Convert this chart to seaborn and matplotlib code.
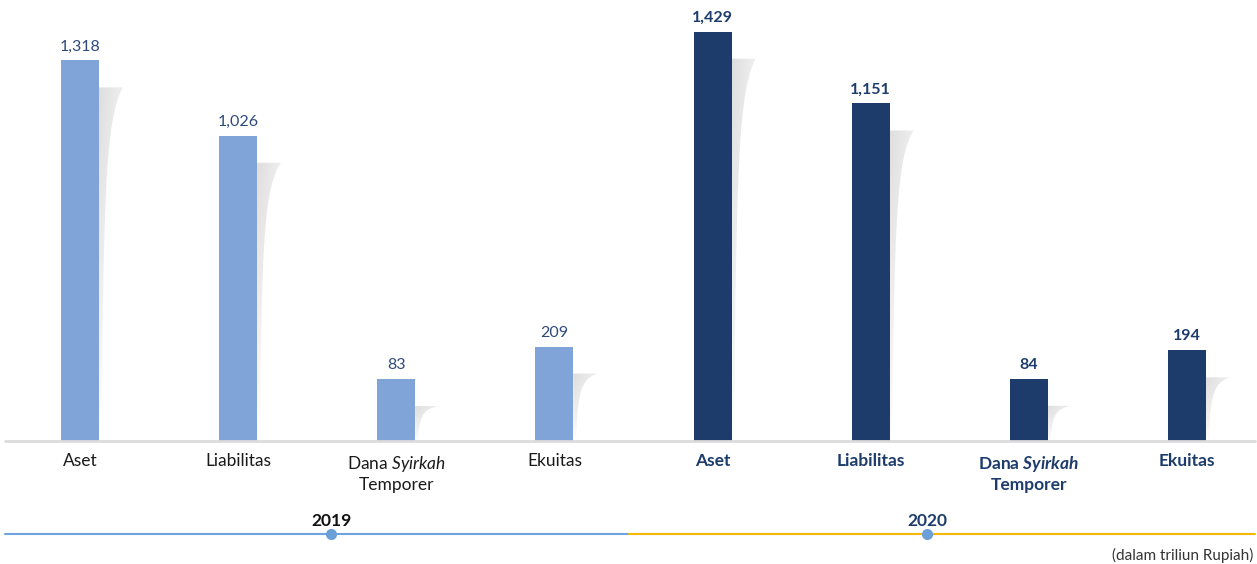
import numpy as np
import pandas as pd
import seaborn as sns
import matplotlib.pyplot as plt
from matplotlib.patches import Polygon
from matplotlib.lines import Line2D

categories = ["Aset", "Liabilitas", "Dana Syirkah Temporer", "Ekuitas"]
years = ["2019", "2020"]
values_2019 = [1318, 1026, 83, 209]
values_2020 = [1429, 1151, 84, 194]

labels_2019 = ["Aset", "Liabilitas", "Dana $\\mathit{Syirkah}$\nTemporer", "Ekuitas"]
labels_2020 = ["Aset", "Liabilitas", "Dana $\\mathbfit{Syirkah}$\nTemporer", "Ekuitas"]

LIGHT = "#80a4d7"
NAVY = "#1d3c6b"
FLOOR = -157
TOP = 1552

sns.set_theme(style="white")
plt.rcParams["font.family"] = ["Lato", "DejaVu Sans"]
plt.rcParams["mathtext.fontset"] = "custom"
plt.rcParams["mathtext.rm"] = "Lato"
plt.rcParams["mathtext.it"] = "Lato:italic"
plt.rcParams["mathtext.bf"] = "Lato:bold"
plt.rcParams["mathtext.bfit"] = "Lato:italic:bold"

df = pd.DataFrame({
    "key": [f"{y}-{c}" for y in years for c in categories],
    "year": [y for y in years for _ in categories],
    "value": values_2019 + values_2020,
})

fig = plt.figure(figsize=(12.57, 5.64), dpi=100)
ax = fig.add_axes([5 / 1257, 123 / 564, 1250 / 1257, 441 / 564])

sns.barplot(data=df, x="key", y="value", hue="year", dodge=False,
            palette={"2019": LIGHT, "2020": NAVY}, width=0.24, saturation=1,
            linewidth=0, legend=False, ax=ax, zorder=3)

ax.set_xlim(-0.474, 7.43)
ax.set_ylim(FLOOR, TOP)

bars = [p for p in ax.patches if p.get_height() > 0]
bars.sort(key=lambda p: p.get_x())

# stretch bars down to the axis floor
for p in bars:
    h = p.get_y() + p.get_height()
    p.set_y(FLOOR)
    p.set_height(h - FLOOR)

# soft curved shadows to the right of each bar
inv = ax.transData.inverted()
for p in bars:
    x1 = p.get_x() + p.get_width()
    top = p.get_y() + p.get_height()
    px, ptop = ax.transData.transform((x1, top))
    _, pbase = ax.transData.transform((x1, FLOOR))
    stop = ptop - 27
    H = stop - pbase
    ts = np.linspace(0, 1, 80)
    right = px + 24 / (1 + 8 * ts)
    ys = stop - ts * H
    pts = [(px, stop)] + list(zip(right, ys)) + [(px, pbase)]
    dpts = inv.transform(pts)
    poly = Polygon(dpts, closed=True, facecolor="none", edgecolor="none",
                   transform=ax.transData)
    ax.add_patch(poly)
    xr = inv.transform((px + 25, stop))[0]
    ytop = inv.transform((px, stop))[1]
    v = np.linspace(0, 1, 120)[:, None]
    hh = np.linspace(0, 1, 40)[None, :]
    alpha = 0.65 * (1 - v) ** 0.8 * (1 - 0.55 * hh)
    img = np.zeros((120, 40, 4))
    img[..., :3] = 0.8
    img[..., 3] = alpha
    im = ax.imshow(img, extent=(x1, xr, FLOOR, ytop), aspect="auto",
                   interpolation="bilinear", zorder=2)
    im.set_clip_path(poly)

ax.set_xlim(-0.474, 7.43)
ax.set_ylim(FLOOR, TOP)

# value labels
for i, p in enumerate(bars):
    val = df["value"].iloc[i]
    is20 = df["year"].iloc[i] == "2020"
    ax.annotate(f"{val:,}", (p.get_x() + p.get_width() / 2, p.get_y() + p.get_height()),
                xytext=(0, 5), textcoords="offset points", ha="center", va="bottom",
                fontsize=11.5, color=NAVY if is20 else "#2e4a7d",
                fontweight="bold" if is20 else "normal")

# baseline
ax.axhline(FLOOR, color="#dcdcdc", lw=2, clip_on=False, zorder=4)

for s in ax.spines.values():
    s.set_visible(False)
ax.set_yticks([])
ax.set_xlabel("")
ax.set_ylabel("")
ax.set_xticks(range(8))
ax.set_xticklabels(labels_2019 + labels_2020, fontsize=12.5, linespacing=1.25)
ax.tick_params(axis="x", length=0, pad=9)
for i, t in enumerate(ax.get_xticklabels()):
    if i >= 4:
        t.set_color(NAVY)
        t.set_fontweight("bold")
    else:
        t.set_color("#1a1a1a")

# year timeline
fig.add_artist(Line2D([5 / 1257, 0.5], [30 / 564, 30 / 564], color="#6fa3dd", lw=1.5))
fig.add_artist(Line2D([0.5, 1255 / 1257], [30 / 564, 30 / 564], color="#f5b800", lw=1.5))
for xf, yr, col in [(331 / 1257, years[0], "#111111"), (927 / 1257, years[1], NAVY)]:
    fig.add_artist(Line2D([xf], [30 / 564], marker="o", markersize=8,
                          color="#6a9fd8", markeredgewidth=0))
    fig.text(xf, 43 / 564, yr, ha="center", va="center", fontsize=12.5,
             fontweight="bold", color=col)

fig.text(1253 / 1257, 9 / 564, "(dalam triliun Rupiah)", ha="right", va="center",
         fontsize=11, color="#333333")

fig.savefig("out.png", dpi=100)
